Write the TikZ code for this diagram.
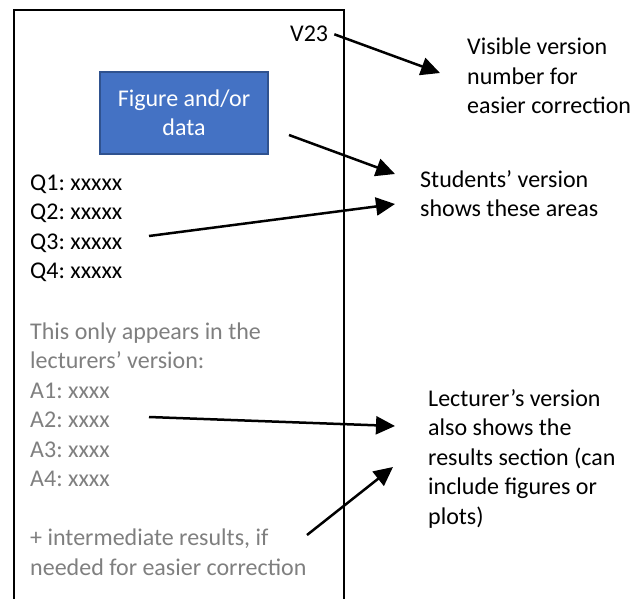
\documentclass[tikz,border=0pt]{standalone}
\usepackage{fontspec}
\setmainfont{Carlito}
\usetikzlibrary{arrows.meta}

\definecolor{figblue}{HTML}{4472C4}
\definecolor{figedge}{HTML}{2F528F}
\definecolor{hintgray}{HTML}{7F7F7F}

\begin{document}
\frenchspacing
\begin{tikzpicture}[x=1pt,y=-1pt,
  note/.style={anchor=base west, inner sep=0pt, align=left, font=\fontsize{24}{29.5}\selectfont},
  hint/.style={note, text=hintgray},
  pointer/.style={line width=2.5pt, -{Triangle[length=19pt,width=18pt]}}]
\useasboundingbox (0,0) rectangle (640,599);

% the sheet, open at the bottom
\draw[line width=1.5pt] (14,599) -- (14,10) -- (344,10) -- (344,599);

% multi-line notes sit on the baseline of their last line
\node (ver) [note] at (290,42) {V23};
\node (fig) [rectangle, fill=figblue, draw=figedge, line width=1.2pt, minimum width=168pt, minimum height=82pt, inner sep=0pt, text=white, align=center, font=\fontsize{24}{29.5}\selectfont] at (184,113) {Figure and/or\\data};

\node (ques) [note] at (30,278.5) {Q1: xxxxx\\Q2: xxxxx\\Q3: xxxxx\\Q4: xxxxx};
\node (ans) [hint] at (30,575) {This only appears in the\\lecturers’ version:\\A1: xxxx\\A2: xxxx\\A3: xxxx\\A4: xxxx\\[29.5pt]+ intermediate results, if\\needed for easier correction};

% explanations on the right
\node (visible) [note] at (467,114) {Visible version\\number for\\easier correction};
\node (students) [note] at (420,216.5) {Students’ version\\shows these areas};
\node (lecturer) [note] at (428,524) {Lecturer’s version\\also shows the\\results section (can\\include figures or\\plots)};

% arrow ends
\coordinate (vistip) at (440,73);
\coordinate (figtail) at (289,135);
\coordinate (stutipa) at (395,174);
\coordinate (questail) at (149,236);
\coordinate (stutipb) at (395,204);
\coordinate (anstail) at (149,417);
\coordinate (lectipa) at (395,426);
\coordinate (inttail) at (307,535);
\coordinate (lectipb) at (393,467);

\draw[pointer] ([xshift=6pt]ver.east) -- (vistip);
\draw[pointer] (figtail) -- (stutipa);
\draw[pointer] (questail) -- (stutipb);
\draw[pointer] (anstail) -- (lectipa);
\draw[pointer] (inttail) -- (lectipb);

\end{tikzpicture}
\end{document}
